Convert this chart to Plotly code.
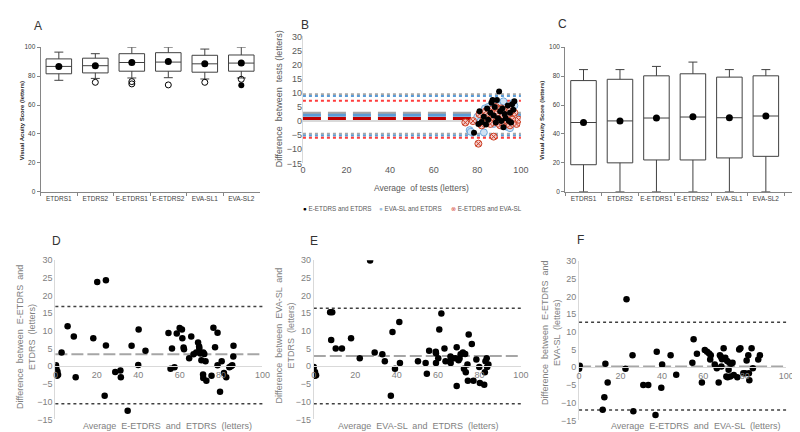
import plotly.graph_objects as go

W, H = 800, 432
FONT = "Liberation Sans"

# ---------------- data ----------------
cats = ["ETDRS1", "ETDRS2", "E-ETDRS1", "E-ETDRS2", "EVA-SL1", "EVA-SL2"]

# Panel A (box stats)
a_low = [77.1, 78.4, 78.7, 78.9, 78.0, 78.7]
a_q1 = [81.6, 82.2, 83.4, 83.4, 82.7, 83.4]
a_med = [86.7, 87.2, 89.4, 89.7, 88.5, 89.0]
a_q3 = [91.9, 92.4, 95.5, 96.2, 94.4, 94.6]
a_high = [96.6, 95.5, 100, 100, 98.7, 100]
a_mean = [86.7, 87.2, 89.4, 90.1, 88.5, 89.0]
a_out_x = ["ETDRS2", "E-ETDRS1", "E-ETDRS1", "E-ETDRS2", "EVA-SL1", "EVA-SL2"]
a_out_y = [75.7, 76.2, 74.6, 73.9, 75.7, 77.8]
a_ext_x = ["EVA-SL2"]
a_ext_y = [73.7]

# Panel C (box stats)
c_low = [0, 0, 0, 0, 0, 0]
c_q1 = [18.7, 20.0, 22.0, 22.0, 23.4, 24.5]
c_med = [47.9, 49.0, 51.0, 51.7, 51.2, 52.4]
c_q3 = [76.9, 77.8, 80.2, 81.6, 79.3, 80.2]
c_high = [84.5, 84.5, 86.7, 89.7, 84.5, 84.5]
c_mean = [47.9, 49.0, 51.0, 51.9, 51.2, 52.4]

# Panel B (Bland-Altman, three comparisons)
b1_x = [78.5, 80.5, 81, 82, 83, 84, 84.5, 85, 86, 86.5, 87, 87.5, 88, 88.5, 89,
        89.5, 90, 90.5, 91, 91.5, 92, 92.5, 93, 94, 94.5, 95, 95.5, 96, 96.5, 97]
b1_y = [-4.1, -1, 3.5, -0.3, 1.5, -1.2, 4.5, 0.5, 3, 6.5, 7.5, 2, 5, -0.5, 7.5,
        1, 10.5, 3.5, 0, 4.5, -2.2, 2.5, 1, 5.5, 0, 3, -0.5, 6, 4, 7]
b2_x = [76.5, 77, 80, 81.5, 82.5, 83, 83.5, 84, 85, 85.5, 86, 87, 87.5, 88, 89,
        89.5, 90, 90.5, 91, 92, 92.5, 93, 93.5, 94, 94.5, 95, 96, 96.5, 97, 98]
b2_y = [-3.2, -3.8, 1.5, 0, 3, -4, 4.5, 2, 5, 0.5, 1.5, 6.5, -1, 3, 4,
        0, 5.5, 2, -1.5, 7, 1, 3.5, -2, 2.5, 0.5, -2.5, 1.5, 6.5, 5.5, 1]
b3_x = [74.5, 78, 80.5, 81, 82, 83, 84, 84.5, 85, 86, 86.5, 87, 87.5, 88, 88.5, 89,
        89.5, 90, 90.5, 91, 91.5, 92, 92.5, 93, 94, 94.5, 95, 95.5, 96, 97, 98, 99]
b3_y = [-0.5, 0, -8, 2.5, -1.5, 0.5, 3.5, -0.5, 1.5, -1, 4, 2.5, -5.5, 1, 5, -0.5,
        3, 0.5, -1.5, 4.5, 1, 2, -1, 3.5, 0, 5, -1.5, 2, 0.5, 3, -1, 0.5]
b_names = ["E-ETDRS and ETDRS", "EVA-SL and ETDRS", "E-ETDRS and EVA-SL"]
b_mean = [2.8, 2.1, 0.9]
b_upper = [9.5, 8.9, 7.2]
b_lower = [-4.5, -5.1, -5.9]

# Panel D
d_x = [0, 0.3, 0.5, 1, 1.3, 0.8, 3, 5.9, 8.9, 9.8, 18.3, 20.2, 24.4, 24.4, 23.8, 28.9,
       31.4, 31.6, 34.9, 36.8, 40.2, 40, 43.5, 54.6, 55.6, 56.3, 57.5, 58.6, 60, 61.1,
       61.3, 61.9, 62.1, 64.6, 65.6, 66.7, 68, 68.9, 69.4, 69.5, 70, 70.5, 71.4, 71.9,
       71.3, 71.4, 72.5, 72.9, 75.4, 76.3, 77.1, 78.3, 78.3, 79.5, 80.3, 81.4, 82.5,
       84, 84.8, 85.4, 85.9, 86]
d_y = [-0.3, 0.3, -0.7, -1.5, -2.4, -2.7, 3.9, 11.3, 8.4, -3.1, 7.9, 23.8, 24.3, 5.9,
       -8.3, -1.6, -1.2, -3.1, -12.6, 5.8, 10.4, 0.4, 4.4, 9.4, -0.7, 5.0, -0.3, 9.3,
       10.8, 10.4, 7.9, 5.3, 4.8, 2.3, 8.4, 3.4, 3.9, 6.7, 5.6, 5.0, 3.6, 1.7, 3.9, 3.5,
       -2.3, -3.3, 1.4, -4.1, -2.7, 10.9, 5.4, 9.5, 0.3, -7.2, 1.4, -1.9, -3.1, -0.3,
       0, 0.3, 2.8, 5.8]
d_lines = dict(mean=3.4, upper=16.9, lower=-10.6)

# Panel E
e_x = [0, 0.6, 1.1, 0.5, 7.9, 8.9, 8.4, 10.6, 13.6, 18, 22.2, 27.2, 29.4, 33.1, 34.3,
       37.2, 38, 39.2, 41.3, 41.6, 50.3, 54, 54.6, 55.7, 58.9, 59, 59, 60.1, 60.6, 61.6,
       63.1, 63.6, 65.7, 66, 66.1, 67.2, 68.5, 69, 69, 69.9, 70.4, 70.9, 72, 72.5, 73.1,
       73.4, 74.2, 74.4, 74.8, 76.3, 77.1, 78.5, 79.9, 80.2, 82.3, 82.6, 82.9, 83.5,
       83.7, 84.3]
e_y = [-0.2, -1.6, -2.5, -2.7, 15.3, 15.3, 7.4, 5.0, 5.0, 7.9, 2.3, 29.9, 3.9, 3.4, 1.4,
       -8.3, 9.7, -0.7, 12.5, 0.9, 1.4, 0.9, -2.1, 4.4, 4.1, 3.7, 0.9, 2.3, 10.4, 14.9,
       5.0, 1.4, 1.4, 2.8, 0.9, 2.3, 2.3, 5.4, -5.6, 1.7, 2.2, 3.4, 3.9, -0.7, 3.5,
       -1.7, 0.5, -4.1, 9.0, 6.3, -4.1, 1.9, -0.2, -4.7, -5.2, -1.7, 1.4, 2.3, -0.2, 0.5]
e_lines = dict(mean=2.9, upper=16.4, lower=-10.6)

# Panel F
f_x = [0, 0.3, 11.4, 12.2, 12.7, 13.8, 22.4, 22.9, 25.8, 26.2, 31, 33.4, 36.9, 37.5,
       39.7, 40.1, 44.2, 46.9, 54.7, 55.3, 56.9, 59.3, 60.7, 61.8, 62.8, 63.3, 63.6,
       65.5, 66.5, 67.4, 68, 68.5, 68.7, 69, 69.8, 70.6, 71.1, 71.5, 71.7, 72.2, 72.6,
       73, 73.4, 74.1, 74.7, 76.4, 77.3, 77.9, 79.3, 80.1, 80.9, 81.7, 82.2, 82,
       83.3, 83.9, 86.5, 87.3]
f_y = [-0.4, 0.4, -12, -8.5, 1, -4.3, -0.4, 19.2, 3.4, -12.4, -5, -5, -13.5, 4.4,
       -5.8, 0.8, 3.4, -2.1, 1.3, 7.9, 3.8, -4.3, 4.9, 4.4, 3.9, 2.2, 3.4, 0.8, -0.3,
       -4.3, 3.4, 3, 0.2, 2.3, 5.4, 2.7, -2.6, 1.8, -2.8, -0.7, 1.3, -2.6, 1, 1.3,
       -2.2, -2.8, 5, 5.4, -1.7, -1.7, 1.9, 3.4, -3.7, -1.7, 5.4, -0.3, 2.2, 3.4]
f_lines = dict(mean=0.2, upper=12.7, lower=-12.1)

# ---------------- helpers ----------------
def dx(p0, p1):
    return [p0 / W, p1 / W]

def dy(top, bottom):
    return [1 - bottom / H, 1 - top / H]

fig = go.Figure()
layout = dict(
    width=W, height=H, margin=dict(l=0, r=0, t=0, b=0),
    paper_bgcolor="white", plot_bgcolor="white",
    font=dict(family=FONT, color="#404040"),
    showlegend=False,
)
shapes = []
annotations = []

def ann(text, x, y, size, color="#404040", angle=0, bold=False, xanchor="center"):
    if bold:
        text = "<b>" + text + "</b>"
    annotations.append(dict(text=text, x=x / W, y=1 - y / H, xref="paper", yref="paper",
                            showarrow=False, textangle=angle, xanchor=xanchor,
                            yanchor="middle", font=dict(size=size, color=color, family=FONT)))

# ---------------- box panels A and C ----------------
def box_panel(ax, low, q1, med, q3, high, mean, xd, yd, rng):
    xa, ya = "x" + ax, "y" + ax
    fig.add_trace(go.Box(x=cats, q1=q1, median=med, q3=q3, lowerfence=low, upperfence=high,
                         fillcolor="white", line=dict(color="#404040", width=1),
                         whiskerwidth=0.35, width=0.7, boxpoints=False,
                         xaxis=xa, yaxis=ya, showlegend=False, hoverinfo="skip"))
    fig.add_trace(go.Scatter(x=cats, y=mean, mode="markers",
                             marker=dict(symbol="circle", size=7, color="black"),
                             xaxis=xa, yaxis=ya, showlegend=False))
    key = "" if ax == "" else ax
    layout["xaxis" + key] = dict(domain=xd, anchor=ya, type="category", range=rng,
                                 showline=True, linecolor="#868686", linewidth=1,
                                 ticks="outside", tickson="boundaries", ticklen=3,
                                 tickcolor="#868686", showgrid=False, tickangle=0,
                                 tickfont=dict(size=6.5, color="#404040"))
    layout["yaxis" + key] = dict(domain=yd, anchor=xa, range=[0, 100], tickvals=[0, 20, 40, 60, 80, 100],
                                 showline=True, linecolor="#868686", linewidth=1,
                                 ticks="outside", ticklen=3, tickcolor="#868686",
                                 showgrid=False, zeroline=False,
                                 tickfont=dict(size=6.5, color="#404040"))

box_panel("", a_low, a_q1, a_med, a_q3, a_high, a_mean, dx(30, 252), dy(35, 183), [-0.5, 5.5])
fig.add_trace(go.Scatter(x=a_out_x, y=a_out_y, mode="markers",
                         marker=dict(symbol="circle-open", size=6, color="black", line=dict(width=1)),
                         xaxis="x", yaxis="y", showlegend=False))
fig.add_trace(go.Scatter(x=a_ext_x, y=a_ext_y, mode="markers",
                         marker=dict(symbol="circle", size=6, color="black"),
                         xaxis="x", yaxis="y", showlegend=False))
box_panel("3", c_low, c_q1, c_med, c_q3, c_high, c_mean, dx(562, 792), dy(35, 183), [-0.5, 5.72])

# ---------------- panel B ----------------
b_cols = ["#a6a6a6", "#5b9bd5", "#c00000"]
b_dot_cols = ["#a6a6a6", "#5b9bd5", "#ff3b3b"]
fig.add_trace(go.Scatter(x=b2_x, y=b2_y, mode="markers", name=b_names[1],
                         marker=dict(symbol="circle", size=7, color="#cfe2f3",
                                     line=dict(color="#6fa8dc", width=1)),
                         xaxis="x2", yaxis="y2"))
fig.add_trace(go.Scatter(x=b3_x, y=b3_y, mode="markers", name=b_names[2],
                         marker=dict(symbol="circle-x", size=7, color="#f4cccc",
                                     line=dict(color="#cc4125", width=1)),
                         xaxis="x2", yaxis="y2"))
fig.add_trace(go.Scatter(x=b1_x, y=b1_y, mode="markers", name=b_names[0],
                         marker=dict(symbol="circle", size=6, color="black"),
                         xaxis="x2", yaxis="y2"))
for i in range(3):
    shapes.append(dict(type="line", xref="x2 domain", yref="y2", x0=0, x1=1,
                       y0=b_mean[i], y1=b_mean[i], layer="below",
                       line=dict(color=b_cols[i], width=3, dash="18px,7px")))
    for v in (b_upper[i], b_lower[i]):
        shapes.append(dict(type="line", xref="x2 domain", yref="y2", x0=0, x1=1,
                           y0=v, y1=v, layer="below",
                           line=dict(color=b_dot_cols[i], width=2, dash="dot")))
layout["xaxis2"] = dict(domain=dx(296, 517), anchor="y2", range=[0, 100], tickvals=[0, 20, 40, 60, 80, 100],
                        showline=False, showgrid=False, zeroline=True, zerolinecolor="#d9d9d9",
                        zerolinewidth=1, ticks="", tickfont=dict(size=9, color="#595959"))
layout["yaxis2"] = dict(domain=dy(24, 154), anchor="x2", range=[-15, 30],
                        tickvals=[-15, -10, -5, 0, 5, 10, 15, 20, 25, 30],
                        showline=False, showgrid=False, zeroline=True, zerolinecolor="#d9d9d9",
                        zerolinewidth=1.5, ticks="", tickfont=dict(size=9, color="#595959"))
ann("Average  of tests (letters)", 416, 179, 8.5, "#595959")
ann("Difference  between  tests (letters)", 272, 88, 9, "#595959", angle=-90)

# legend for panel B (text with coloured symbols)
leg_sym = ["<span style='color:black'>●</span>",
           "<span style='color:#9dc3e6'>●</span>",
           "<span style='color:#d9534f'>⊗</span>"]
for sym, name, lx in zip(leg_sym, b_names, (294, 371, 444)):
    ann(sym + " " + name, lx, 200, 6.3, "#595959", xanchor="left")

# ---------------- panels D, E, F ----------------
def ba_panel(ax, xs, ys, lines, xd, yd):
    xa, ya = "x" + ax, "y" + ax
    fig.add_trace(go.Scatter(x=xs, y=ys, mode="markers",
                             marker=dict(symbol="circle", size=6.5, color="black"),
                             xaxis=xa, yaxis=ya, showlegend=False))
    for key, dash, col, wid in (("upper", "dot", "#404040", 1.5), ("lower", "dot", "#404040", 1.5),
                                ("mean", "12px,4px", "#a6a6a6", 2)):
        shapes.append(dict(type="line", xref=xa + " domain", yref=ya, x0=0, x1=1,
                           y0=lines[key], y1=lines[key], layer="below",
                           line=dict(color=col, width=wid, dash=dash)))
    yr = [-15, 30]
    pos = yd[0] + (yd[1] - yd[0]) * (0 - yr[0]) / (yr[1] - yr[0])
    layout["xaxis" + ax] = dict(domain=xd, anchor="free", position=pos, range=[0, 100],
                                tickvals=[0, 20, 40, 60, 80, 100], showline=True,
                                linecolor="#d9d9d9", linewidth=1, showgrid=False, zeroline=False,
                                ticks="", tickfont=dict(size=9, color="#7f7f7f"))
    layout["yaxis" + ax] = dict(domain=yd, anchor=xa, range=yr,
                                tickvals=[-15, -10, -5, 0, 5, 10, 15, 20, 25, 30],
                                showline=True, linecolor="#d9d9d9", linewidth=1, showgrid=False,
                                zeroline=False, ticks="", tickfont=dict(size=9, color="#7f7f7f"))

ba_panel("4", d_x, d_y, d_lines, dx(45, 255), dy(253, 416))
ba_panel("5", e_x, e_y, e_lines, dx(307, 517), dy(253, 416))
ba_panel("6", f_x, f_y, f_lines, dx(576, 786), dy(254, 417))

ann("Average  E-ETDRS  and  ETDRS  (letters)", 159, 423, 9, "#7f7f7f")
ann("Average  EVA-SL  and  ETDRS  (letters)", 413, 423, 9, "#7f7f7f")
ann("Average  E-ETDRS  and  EVA-SL  (letters)", 694, 423, 9, "#7f7f7f")
ann("Difference  between  E-ETDRS  and<br>ETDRS  (letters)", 16, 332, 9, "#7f7f7f", angle=-90)
ann("Difference  between  EVA-SL  and<br>ETDRS  (letters)", 278, 330, 9, "#7f7f7f", angle=-90)
ann("Difference  between  E-ETDRS  and<br>EVA-SL  (letters)", 548, 327, 9, "#7f7f7f", angle=-90)

# A / C y titles
ann("Visual Acuity Score (letters)", 12, 110, 6, "#262626", angle=-90, bold=True)
ann("Visual Acuity Score (letters)", 539, 110, 6, "#262626", angle=-90, bold=True)

# panel letters
for lab, x, y in (("A", 27, 13), ("B", 298, 12), ("C", 559, 11), ("D", 46, 233), ("E", 307, 233), ("F", 577, 232)):
    ann(lab, x, y, 12, "#333333")

layout["shapes"] = shapes
layout["annotations"] = annotations
fig.update_layout(**layout)
fig.write_html("out.html")
